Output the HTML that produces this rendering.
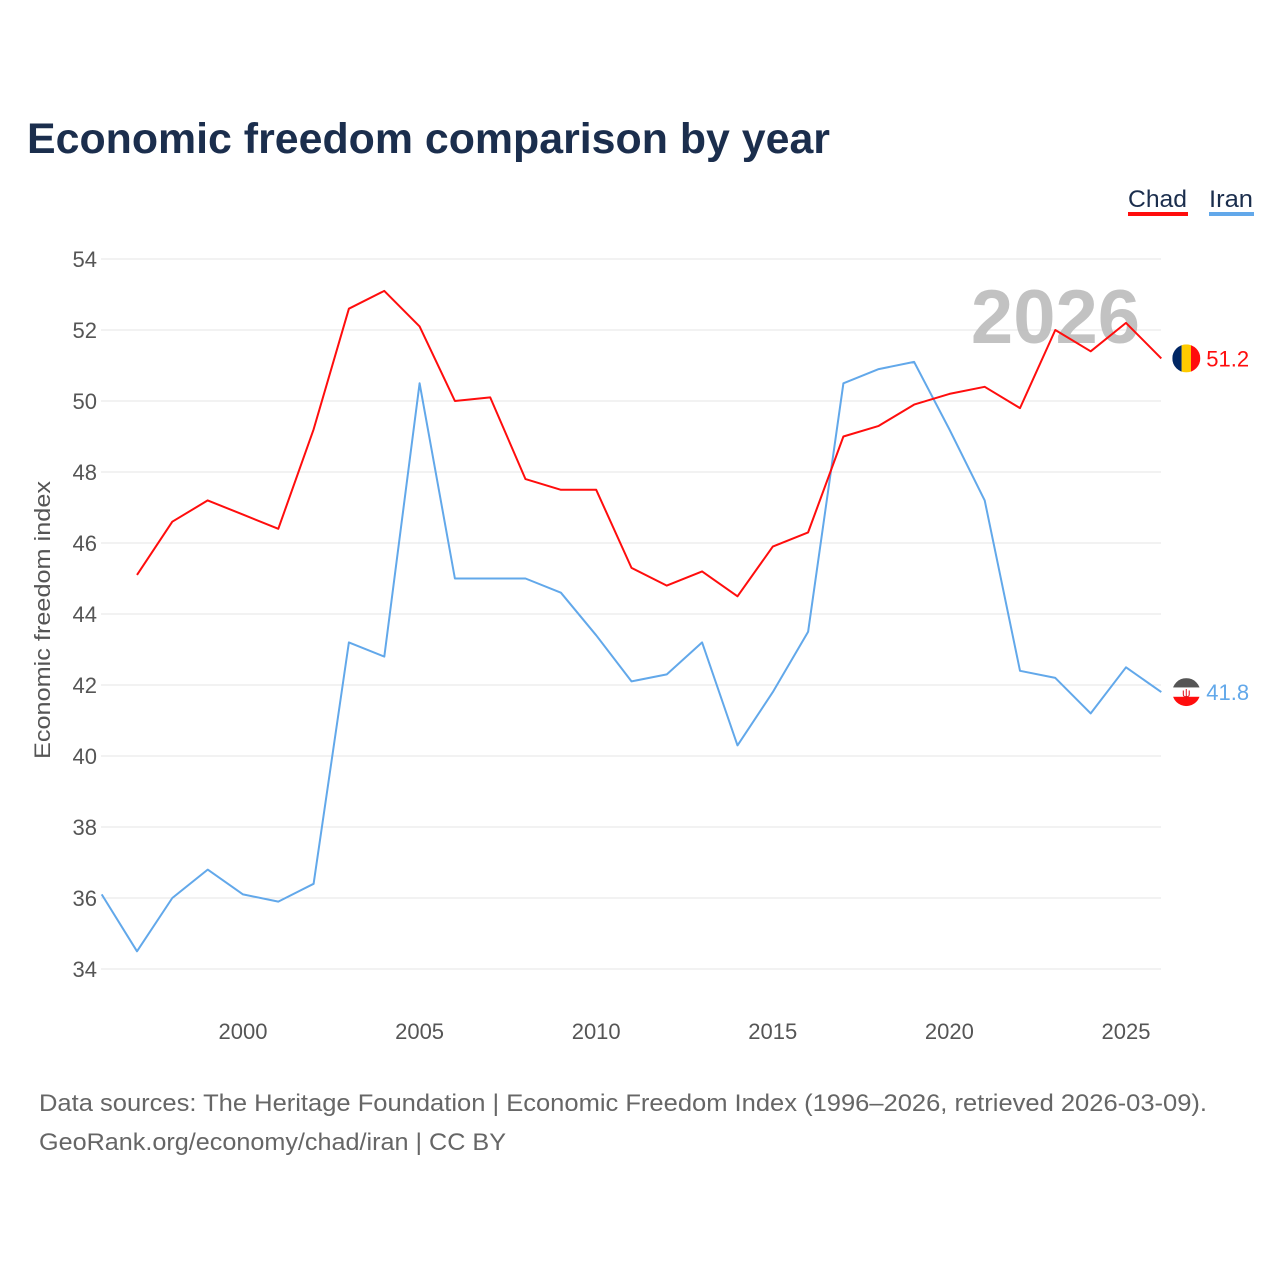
<!DOCTYPE html>
<html><head><meta charset="utf-8"><style>
body{margin:0;background:#fff;font-family:"Liberation Sans",sans-serif;}
#wrap{position:relative;width:1280px;height:1280px;}
</style></head><body>
<div id="wrap">
<svg id="chart" width="1280" height="1280"></svg>
</div>
<script>
const years=[1996,1997,1998,1999,2000,2001,2002,2003,2004,2005,2006,2007,2008,2009,2010,2011,2012,2013,2014,2015,2016,2017,2018,2019,2020,2021,2022,2023,2024,2025,2026];
const chad=[null,45.1,46.6,47.2,46.8,46.4,49.2,52.6,53.1,52.1,50.0,50.1,47.8,47.5,47.5,45.3,44.8,45.2,44.5,45.9,46.3,49.0,49.3,49.9,50.2,50.4,49.8,52.0,51.4,52.2,51.2];
const iran=[36.1,34.5,36.0,36.8,36.1,35.9,36.4,43.2,42.8,50.5,45.0,45.0,45.0,44.6,43.4,42.1,42.3,43.2,40.3,41.8,43.5,50.5,50.9,51.1,49.2,47.2,42.4,42.2,41.2,42.5,41.8];
const yTicks=[34,36,38,40,42,44,46,48,50,52,54];
const xTicks=[2000,2005,2010,2015,2020,2025];

const NS="http://www.w3.org/2000/svg";
const svg=document.getElementById('chart');
const X=v=>101.7+(v-1996)*35.32;
const Y=v=>259+(54-v)*35.5;
function mk(tag,attrs,parent){const e=document.createElementNS(NS,tag);for(const k in attrs)e.setAttribute(k,attrs[k]);(parent||svg).appendChild(e);return e;}
function txt(s,attrs){const e=mk('text',attrs);e.textContent=s;return e;}

let t=txt('Economic freedom comparison by year',{x:27,y:153,'font-size':43,'font-weight':'bold',fill:'#1b2e4d',textLength:803,lengthAdjust:'spacingAndGlyphs'});



yTicks.forEach(v=>{
 const l=mk('line',{x1:101,x2:1161,y1:Y(v),y2:Y(v),stroke:'#e6e6e6','stroke-width':1});
 
 
 const tt=txt(String(v),{x:97,y:Y(v)+8,'font-size':22,fill:'#555','text-anchor':'end'});
 
 
});
xTicks.forEach(v=>{
 const tt=txt(String(v),{x:X(v),y:1039,'font-size':22,fill:'#555','text-anchor':'middle'});
 
 
});
t=txt('Economic freedom index',{x:0,y:0,'font-size':22,fill:'#555','text-anchor':'middle',textLength:278,lengthAdjust:'spacingAndGlyphs',transform:'translate(50,620) rotate(-90)'});



t=txt('2026',{x:1140,y:343,'font-size':76,'font-weight':'bold',fill:'#bbb','text-anchor':'end','fill-opacity':0.9});



function line(data,color,name){
 let d='';data.forEach((v,i)=>{if(v==null)return;d+=(d?'L':'M')+X(years[i]).toFixed(1)+','+Y(v).toFixed(1);});
 const p=mk('path',{d:d,fill:'none',stroke:color,'stroke-width':2,'stroke-linejoin':'round'});
 
 
}
line(iran,'#62a8ea','iran-line');
line(chad,'#ff0d0d','chad-line');

const cv=chad[chad.length-1], iv=iran[iran.length-1], ex=X(2026)+25;
const g1=mk('g',{});


const cp1=mk('clipPath',{id:'c1'},g1);mk('circle',{cx:ex,cy:Y(cv),r:14},cp1);
['#002664','#fecb00','#ff0d0d'].forEach((c,i)=>mk('rect',{x:ex-14+i*9.34,y:Y(cv)-14,width:9.4,height:28,fill:c,'clip-path':'url(#c1)'},g1));
t=txt(cv.toFixed(1),{x:ex+20,y:Y(cv)+8,'font-size':22,fill:'#ff0d0d'});



const g2=mk('g',{});


const cp=mk('clipPath',{id:'c2'},g2);mk('circle',{cx:ex,cy:Y(iv),r:14},cp);
['#555','#fff','#ff0d0d'].forEach((c,i)=>mk('rect',{x:ex-14,y:Y(iv)-14+i*9.34,width:28,height:9.4,fill:c,'clip-path':'url(#c2)'},g2));
mk('text',{x:ex,y:Y(iv)+5,'font-size':12,fill:'#e0141e','text-anchor':'middle'},g2).textContent='ψ';
t=txt(iv.toFixed(1),{x:ex+20,y:Y(iv)+8,'font-size':22,fill:'#62a8ea'});



t=txt('Chad',{x:1128,y:207,'font-size':24,fill:'#1b2e4d',textLength:59,lengthAdjust:'spacingAndGlyphs'});


let r=mk('rect',{x:1128,y:212,width:60,height:4,fill:'#ff0d0d'});


t=txt('Iran',{x:1209,y:207,'font-size':24,fill:'#1b2e4d',textLength:44,lengthAdjust:'spacingAndGlyphs'});


r=mk('rect',{x:1209,y:212,width:45,height:4,fill:'#62a8ea'});



t=txt('Data sources: The Heritage Foundation | Economic Freedom Index (1996–2026, retrieved 2026-03-09).',{x:39,y:1111,'font-size':24,fill:'#666',textLength:1168,lengthAdjust:'spacingAndGlyphs'});


t=txt('GeoRank.org/economy/chad/iran | CC BY',{x:39,y:1150,'font-size':24,fill:'#666',textLength:467,lengthAdjust:'spacingAndGlyphs'});


</script>
</body></html>
